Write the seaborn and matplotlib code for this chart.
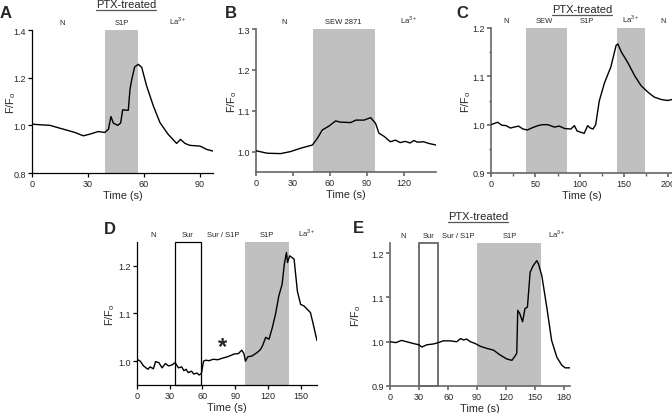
import numpy as np
import pandas as pd
import matplotlib
matplotlib.use("Agg")
import matplotlib.pyplot as plt
import matplotlib.transforms as mt
from matplotlib.lines import Line2D
from matplotlib.patches import Rectangle
import seaborn as sns

# ---------------- data ----------------
a_t = [0, 5, 9.6, 14, 18.6, 23, 27.5, 31, 35.5, 39, 41, 42.3, 43.6, 46, 47.5, 48.6, 51.6, 52.5,
       53.4, 55, 57, 58.8, 61.4, 65, 68.6, 73, 77.5, 79.6, 82, 84.6, 90, 93.6, 97]
a_v = [1.005, 1.002, 1.0, 0.99, 0.98, 0.97, 0.956, 0.963, 0.974, 0.97, 0.984, 1.037, 1.009, 1.0,
       1.01, 1.065, 1.063, 1.15, 1.19, 1.245, 1.256, 1.243, 1.166, 1.082, 1.011, 0.962, 0.924,
       0.941, 0.924, 0.916, 0.913, 0.899, 0.892]

b_t = [0, 9, 20, 28, 36, 45.7, 49.7, 53.8, 59, 64.6, 68.6, 76.8, 81, 87.6, 93, 97, 99.7, 104,
       109, 113, 117, 121, 125, 128, 131, 136, 140, 146]
b_v = [1.002, 0.996, 0.995, 1.0, 1.008, 1.016, 1.032, 1.053, 1.062, 1.075, 1.072, 1.071, 1.077,
       1.077, 1.083, 1.069, 1.045, 1.037, 1.024, 1.028, 1.022, 1.025, 1.021, 1.027, 1.023, 1.024,
       1.02, 1.016]

c_t = [0, 7.5, 12, 17, 22, 26, 31, 36, 41, 47, 53, 58, 64, 71.4, 77, 83, 90, 94, 97, 100, 105,
       109, 112, 115, 118, 122, 128, 135, 141, 143, 147, 154, 162, 169, 177, 184, 192, 199, 204]
c_v = [1.0, 1.005, 0.999, 0.998, 0.993, 0.995, 0.997, 0.991, 0.989, 0.994, 0.998, 1.0, 1.0,
       0.995, 0.997, 0.992, 0.991, 0.998, 0.987, 0.985, 0.982, 0.998, 0.993, 0.991, 1.0, 1.049,
       1.087, 1.119, 1.164, 1.167, 1.15, 1.129, 1.101, 1.081, 1.067, 1.057, 1.052, 1.05, 1.052]

d_t = [0, 3, 6, 10, 12, 15, 17, 20, 23, 26, 29, 32, 35, 36.5, 38, 41, 43, 45, 47, 50, 52, 55,
       57, 59, 61, 63, 66, 70, 74, 78, 82.6, 86, 89, 93, 96, 98, 99.4, 101.5, 105.5, 110, 113,
       115, 118, 121, 124, 127, 130, 133, 135, 137, 138, 140, 144, 147, 150, 153, 156, 159,
       161.5, 163.6, 165]
d_v = [1.004, 1.0, 0.99, 0.983, 0.988, 0.984, 0.999, 0.997, 0.986, 0.995, 0.99, 0.992, 0.997,
       0.991, 0.986, 0.988, 0.98, 0.983, 0.976, 0.979, 0.973, 0.975, 0.971, 0.974, 1.0, 1.002,
       1.001, 1.004, 1.003, 1.006, 1.009, 1.012, 1.015, 1.016, 1.023, 1.016, 1.0, 1.009, 1.011,
       1.018, 1.024, 1.032, 1.05, 1.046, 1.07, 1.099, 1.137, 1.161, 1.203, 1.228, 1.207, 1.221,
       1.214, 1.147, 1.119, 1.116, 1.109, 1.102, 1.078, 1.057, 1.043]

e_t = [0, 6, 12, 17.2, 24, 30, 32.8, 38, 45, 50, 55, 62, 69, 72.8, 76, 79.3, 83, 88, 93, 100,
       107, 113.8, 120.7, 126, 129, 131, 132, 134, 137, 139.5, 142, 144.8, 148, 151.7, 153.4,
       156.9, 162, 167, 172.4, 177.5, 181, 186]
e_v = [1.0, 0.998, 1.003, 1.0, 0.996, 0.993, 0.988, 0.993, 0.995, 0.998, 1.002, 1.002, 1.0,
       1.007, 1.004, 1.006, 1.0, 0.996, 0.99, 0.985, 0.981, 0.97, 0.961, 0.958, 0.967, 0.974,
       1.071, 1.064, 1.045, 1.075, 1.078, 1.157, 1.172, 1.183, 1.176, 1.149, 1.078, 1.003,
       0.965, 0.947, 0.941, 0.941]

# ---------------- style ----------------
sns.set_style("ticks")
plt.rcParams['font.family'] = ['Liberation Sans', 'DejaVu Sans']
plt.rcParams['mathtext.fontset'] = 'custom'
plt.rcParams['mathtext.rm'] = 'Liberation Sans'

W, H = 672, 414
fig = plt.figure(figsize=(W / 100, H / 100), dpi=100)

SHADE = '#c0c0c0'
LA = r'La$^{\mathregular{3+}}$'
YLAB = r'F/F$_{\mathregular{o}}$'


def make_ax(l, r, t, b):
    return fig.add_axes([l / W, 1 - b / H, (r - l) / W, (b - t) / H])


def style(ax, xlim, ylim, xticks, yticks, ylab_x, spine_col='black', lw=0.9):
    ax.set_xlim(*xlim)
    ax.set_ylim(*ylim)
    ax.set_xticks(xticks)
    ax.set_yticks(yticks)
    ax.set_xticklabels([str(x) for x in xticks])
    ax.set_yticklabels([f"{y:.1f}" for y in yticks])
    for s in ['top', 'right']:
        ax.spines[s].set_visible(False)
    for s in ['left', 'bottom']:
        ax.spines[s].set_color(spine_col)
        ax.spines[s].set_linewidth(lw)
    ax.tick_params(axis='both', labelsize=6.5, length=3, width=lw, color=spine_col, pad=1.5)
    ax.set_xlabel('Time (s)', fontsize=7.8, labelpad=1)
    ax.set_ylabel(YLAB, fontsize=7.8)
    ax.yaxis.set_label_coords(ylab_x, 0.5)
    ax.patch.set_alpha(0)


def trace(ax, t, v):
    df = pd.DataFrame({'t': t, 'v': v})
    sns.lineplot(data=df, x='t', y='v', ax=ax, color='black', lw=1.0, estimator=None,
                 sort=False, zorder=5)


def toplabels(ax, items):
    tr = mt.blended_transform_factory(ax.transData, ax.transAxes)
    for x, s in items:
        ax.text(x, 1.025, s, transform=tr, ha='center', va='bottom', fontsize=5.5)


def underlined_title(x, y, s):
    t = fig.text(x / W, 1 - y / H, s, ha='center', va='center', fontsize=8)
    fig.canvas.draw()
    bb = t.get_window_extent()
    fig.add_artist(Line2D([bb.x0 / W, bb.x1 / W], [(bb.y0 - 0.5) / H, (bb.y0 - 0.5) / H],
                          transform=fig.transFigure, color='#555555', lw=0.9))


# ---- A ----
axA = make_ax(32, 213, 31, 174)
axA.axvspan(39, 57, color=SHADE, lw=0, zorder=0)
trace(axA, a_t, a_v)
style(axA, (0, 97), (0.8, 1.4), [0, 30, 60, 90], [0.8, 1.0, 1.2, 1.4], -0.08)
toplabels(axA, [(16, 'N'), (48, 'S1P'), (78, LA)])

# ---- B ----
axB = make_ax(256, 436, 30, 173)
axB.axvspan(46, 96.5, color=SHADE, lw=0, zorder=0)
trace(axB, b_t, b_v)
style(axB, (0, 146), (0.95, 1.3), [0, 30, 60, 90, 120], [1.0, 1.1, 1.2, 1.3], -0.095,
      spine_col='#666666', lw=1.2)
toplabels(axB, [(23, 'N'), (71, 'SEW 2871'), (124, LA)])

# ---- C ----
axC = make_ax(491, 672, 29, 174)
axC.axvspan(39.5, 85.3, color=SHADE, lw=0, zorder=0)
axC.axvspan(141.7, 174, color=SHADE, lw=0, zorder=0)
trace(axC, c_t, c_v)
style(axC, (0, 204), (0.9, 1.2), [0, 50, 100, 150, 200], [0.9, 1.0, 1.1, 1.2], -0.1,
      spine_col='#666666', lw=1.2)
axC.set_xticks([25, 75, 125, 175], minor=True)
axC.set_yticks([0.95, 1.05, 1.15], minor=True)
axC.tick_params(which='minor', length=1.8, width=1.0, color='#666666')
toplabels(axC, [(17, 'N'), (60, 'SEW'), (108, 'S1P'), (157, LA), (194, 'N')])

# ---- D ----
axD = make_ax(137, 317, 243, 386)
axD.axvspan(99, 139.3, color=SHADE, lw=0, zorder=0)
axD.add_patch(Rectangle((34.6, 0.95), 59 - 34.6, 0.3, fill=False, ec='black', lw=0.9,
                        zorder=3, clip_on=False))
trace(axD, d_t, d_v)
style(axD, (0, 165), (0.95, 1.25), [0, 30, 60, 90, 120, 150], [1.0, 1.1, 1.2], -0.112)
toplabels(axD, [(15, 'N'), (46.5, 'Sur'), (79.5, 'Sur / S1P'), (119, 'S1P'), (156, LA)])
axD.text(78, 1.03, '*', fontsize=17, fontweight='bold', ha='center', va='center')

# ---- E ----
axE = make_ax(390, 570, 244, 387)
axE.axvspan(90, 156, color=SHADE, lw=0, zorder=0)
axE.add_patch(Rectangle((30, 0.9), 19.3, 0.323, fill=False, ec='#666666', lw=1.3,
                        zorder=3, clip_on=False))
trace(axE, e_t, e_v)
style(axE, (0, 186), (0.9, 1.223), [0, 30, 60, 90, 120, 150, 180], [0.9, 1.0, 1.1, 1.2],
      -0.15, spine_col='#666666', lw=1.2)
toplabels(axE, [(14, 'N'), (40, 'Sur'), (71, 'Sur / S1P'), (124, 'S1P'), (172, LA)])

# ---- panel letters & titles ----
for x, y, s in [(6, 14, 'A'), (231, 14, 'B'), (462, 14, 'C'), (110, 230, 'D'), (358, 229, 'E')]:
    fig.text(x / W, 1 - y / H, s, fontsize=12, fontweight='bold', ha='center', va='center')

underlined_title(126, 5, 'PTX-treated')
underlined_title(582, 10, 'PTX-treated')
underlined_title(478, 217, 'PTX-treated')

fig.savefig('out.png', dpi=100)
